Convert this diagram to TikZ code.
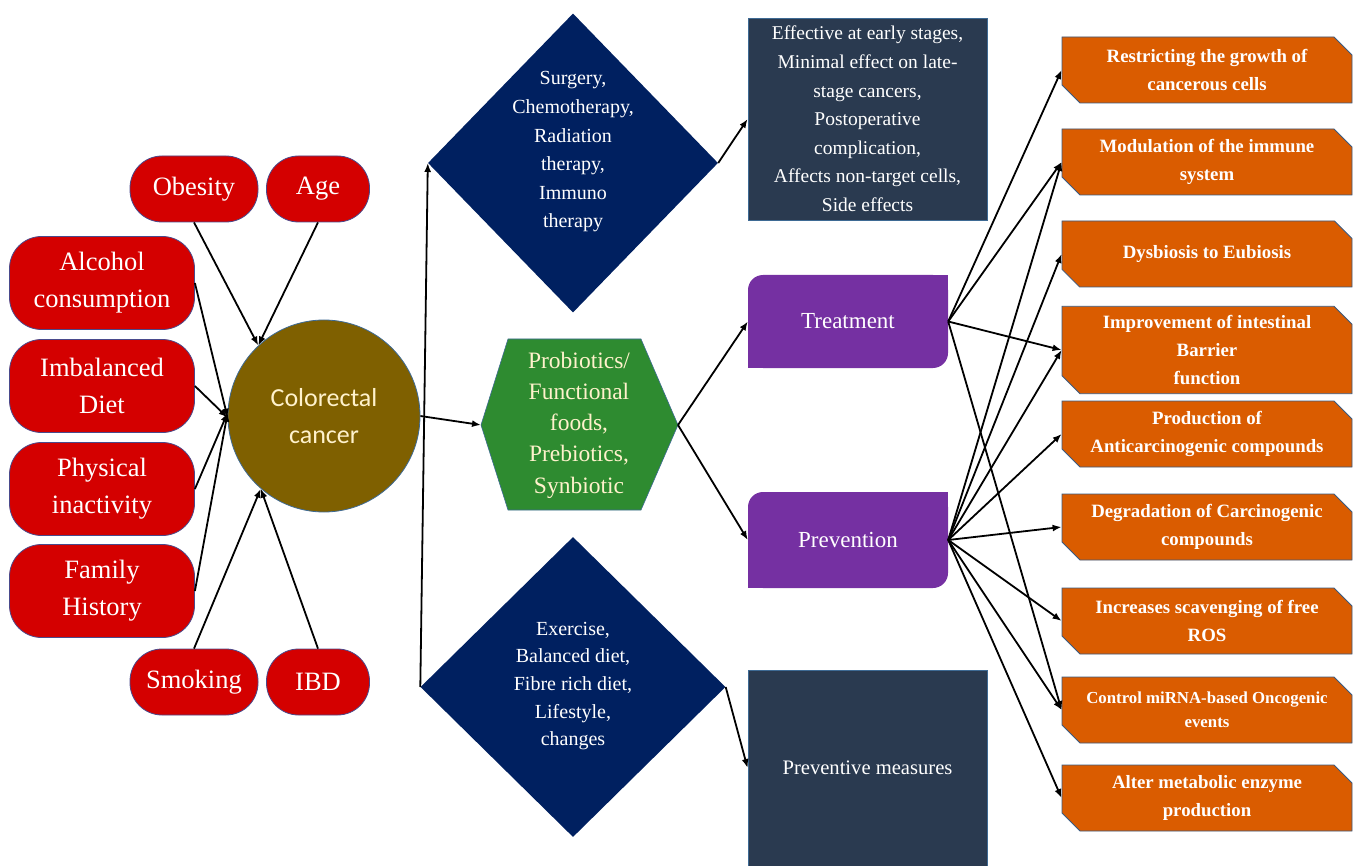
\documentclass[tikz,border=0pt]{standalone}
\usepackage{fontspec}
\setmainfont{LiberationSerif}[Extension=.ttf,UprightFont=*-Regular,BoldFont=*-Bold,ItalicFont=*-Italic,BoldItalicFont=*-BoldItalic]
\newfontfamily\calibrifont{Carlito}
\usetikzlibrary{shapes.geometric,shapes.misc,arrows.meta}

\definecolor{riskred}{HTML}{D40000}
\definecolor{pillrim}{HTML}{4A4A8C}
\definecolor{cancerbrown}{HTML}{7F6000}
\definecolor{creamtext}{HTML}{FFF2CC}
\definecolor{therapynavy}{HTML}{002060}
\definecolor{noteslate}{HTML}{2A3A50}
\definecolor{noterim}{HTML}{3E6A94}
\definecolor{hexgreen}{HTML}{2E8B30}
\definecolor{routepurple}{HTML}{7530A2}
\definecolor{effectorange}{HTML}{DA5C00}
\definecolor{effectrim}{HTML}{3A5A80}

\tikzset{
  riskpill/.style={fill=riskred,draw=pillrim,line width=0.8pt,rounded corners=32pt,
    text=white,align=center,inner sep=0pt,font=\fontsize{26.5}{37}\selectfont},
  cancercirc/.style={circle,fill=cancerbrown,draw=noterim,line width=0.8pt,
    minimum size=192pt,inner sep=0pt,text=creamtext,align=center,
    font=\calibrifont\fontsize{26}{37}\selectfont},
  therapydiam/.style={diamond,fill=therapynavy,inner sep=0pt},
  diamtext/.style={text=white,align=center,inner sep=0pt},
  notebox/.style={rectangle,fill=noteslate,draw=noterim,line width=0.8pt,
    minimum width=239pt,text=white,align=center,inner sep=0pt},
  routebox/.style={rectangle,fill=routepurple,rounded corners=15pt,minimum width=200pt,
    text=white,align=center,inner sep=0pt,font=\fontsize{23}{28}\selectfont},
  effectbox/.style={chamfered rectangle,chamfered rectangle corners={north east,south west},
    chamfered rectangle xsep=9pt,chamfered rectangle ysep=9pt,
    fill=effectorange,draw=effectrim,line width=0.8pt,minimum width=290pt,
    text=white,align=center,inner sep=0pt,font=\bfseries\fontsize{18.8}{28}\selectfont},
  arr/.style={-{Latex[length=9pt,width=7pt]},line width=1.8pt,black},
}

\begin{document}
\begin{tikzpicture}[x=1pt,y=-1pt]
\useasboundingbox (0,0) rectangle (1354,866);

% risk factors
\node[riskpill,minimum width=128pt,minimum height=66pt] (obes) at (194,189) {Obesity};
\node[riskpill,minimum width=103pt,minimum height=66pt] (age) at (318,189) {Age};
\node[riskpill,minimum width=185pt,minimum height=93pt] (alc) at (102,283) {Alcohol\\consumption};
\node[riskpill,minimum width=185pt,minimum height=93pt] (imb) at (102,386) {Imbalanced\\Diet};
\node[riskpill,minimum width=185pt,minimum height=93pt] (phys) at (102,489) {Physical\\inactivity};
\node[riskpill,minimum width=185pt,minimum height=93pt] (fam) at (102,591) {Family\\History};
\node[riskpill,minimum width=128pt,minimum height=66pt] (smok) at (194,682) {Smoking};
\node[riskpill,minimum width=103pt,minimum height=66pt] (ibd) at (318,682) {IBD};

\node[cancercirc] (ccan) at (324,416) {Colorectal\\cancer};

% therapy and lifestyle diamonds
\node[therapydiam,minimum width=290pt,minimum height=299pt] (surg) at (573,163) {};
\node[diamtext,font=\fontsize{20}{28.6}\selectfont] (surgtxt) at (573,152)
  {Surgery,\\Chemotherapy,\\Radiation\\therapy,\\Immuno\\therapy};
\node[therapydiam,minimum width=305pt,minimum height=300pt] (dietd) at (573,687) {};
\node[diamtext,font=\fontsize{20}{27.6}\selectfont] (diettxt) at (573,686)
  {Exercise,\\Balanced diet,\\Fibre rich diet,\\Lifestyle,\\changes};

% probiotics hexagon
\coordinate (hexL) at (481,425);
\coordinate (hexR) at (678,425);
\fill[hexgreen,draw=noterim,line width=0.6pt] (508,339) -- (641,339) -- (hexR) -- (641,510) -- (508,510) -- (hexL) -- cycle;
\node[diamtext,text=creamtext,font=\fontsize{23.5}{31.3}\selectfont] (probio) at (579,425)
  {Probiotics/\\Functional\\foods,\\Prebiotics,\\Synbiotic};

% outcome boxes
\node[notebox,minimum height=202pt,font=\fontsize{19.5}{28.6}\selectfont] (eff) at (867.5,119)
  {Effective at early stages,\\Minimal effect on late-\\stage cancers,\\Postoperative\\complication,\\Affects non-target cells,\\Side effects};
\node[notebox,minimum height=196pt,font=\fontsize{20.6}{26}\selectfont] (prevm) at (867.5,768) {Preventive measures};

\node[routebox,minimum height=93pt] (treat) at (848,321.5) {Treatment};
\node[routebox,minimum height=96pt] (prev) at (848,540) {Prevention};
\fill[routepurple] (treat.north east) rectangle ++(-16,16);
\fill[routepurple] (treat.south west) rectangle ++(16,-16);
\fill[routepurple] (prev.north east) rectangle ++(-16,16);
\fill[routepurple] (prev.south west) rectangle ++(16,-16);

% probiotic effects
\node[effectbox,minimum height=66pt] (e1) at (1207,70) {Restricting the growth of\\cancerous cells};
\node[effectbox,minimum height=66pt] (e2) at (1207,162) {Modulation of the immune\\system};
\node[effectbox,minimum height=66pt] (e3) at (1207,254) {Dysbiosis to Eubiosis};
\node[effectbox,minimum height=76pt] (e4) at (1207,350) {Improvement of intestinal\\Barrier\\function};
\node[effectbox,minimum height=66pt] (e5) at (1207,434) {Production of\\Anticarcinogenic compounds};
\node[effectbox,minimum height=66pt] (e6) at (1207,527) {Degradation of Carcinogenic\\compounds};
\node[effectbox,minimum height=66pt] (e7) at (1207,621) {Increases scavenging of free\\ROS};
\node[effectbox,minimum height=66pt,font=\bfseries\fontsize{16.8}{24}\selectfont] (e8) at (1207,710) {Control miRNA-based Oncogenic\\events};
\node[effectbox,minimum height=66pt] (e9) at (1207,798) {Alter metabolic enzyme\\production};

% connectors
\draw[arr] (obes.south) -- (ccan.133);
\draw[arr] (age.south) -- (ccan.133);
\draw[arr] (alc.east) -- (ccan.181);
\draw[arr] (imb.east) -- (ccan.181);
\draw[arr] (phys.east) -- (ccan.178);
\draw[arr] (fam.east) -- (ccan.178);
\draw[arr] (smok.north) -- (ccan.229);
\draw[arr] (ibd.north) -- (ccan.229);
\draw[arr] (ccan.east) -- (hexL);
\draw[arr,{Latex[length=9pt,width=7pt]}-] (surg.west) -- (dietd.west);
\draw[arr] (surg.east) -- (eff.west);
\draw[arr] (dietd.east) -- (prevm.west);
\draw[arr] (hexR) -- (treat.west);
\draw[arr] (hexR) -- (prev.west);
\foreach \k in {e1,e2,e4,e8}
  \draw[arr] (treat.east) -- (\k.west);
\foreach \k in {e2,e3,e4,e5,e6,e7,e8,e9}
  \draw[arr] (prev.east) -- (\k.west);
\end{tikzpicture}
\end{document}
